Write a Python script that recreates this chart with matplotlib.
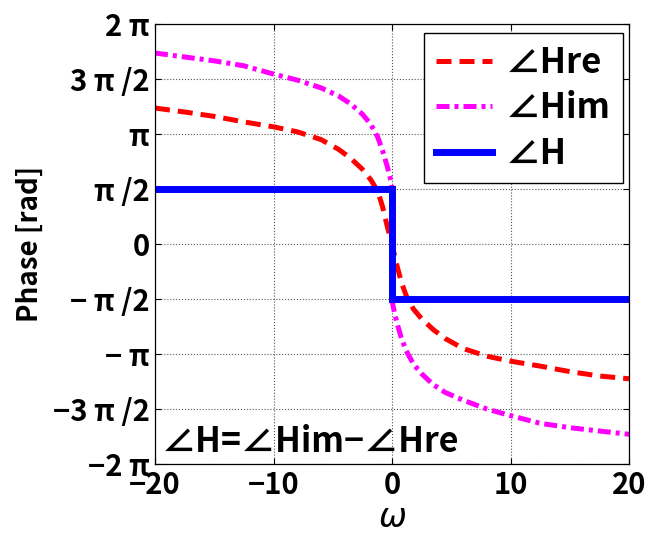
import numpy as np
import matplotlib
matplotlib.use("Agg")
import matplotlib.pyplot as plt

plt.rcParams['font.family'] = ['Noto Sans CJK JP', 'DejaVu Sans']
plt.rcParams['mathtext.fontset'] = 'dejavusans'

# ---- data (phases in units of pi) ----
omega_re = [-20, -17.5, -15, -12.5, -10, -8, -6, -4.5, -3.5, -2.5, -1.8, -1.2, -0.8, -0.4, 0,
            0.4, 0.8, 1.2, 1.8, 2.5, 3.5, 4.5, 6, 8, 10, 12.5, 15, 17.5, 20]
phase_re = [1.236, 1.20, 1.16, 1.11, 1.065, 1.02, 0.95, 0.86, 0.78, 0.68, 0.585, 0.48, 0.34, 0.16, 0.0,
            -0.19, -0.35, -0.47, -0.59, -0.68, -0.78, -0.86, -0.95, -1.02, -1.065, -1.11, -1.16, -1.20, -1.225]

omega_im_neg = [-20, -17.5, -15, -12.5, -10, -8, -6, -4.5, -3.5, -2.5, -1.8, -1.2, -0.8, -0.4, -0.1, 0]
phase_im_neg = [1.736, 1.70, 1.665, 1.62, 1.545, 1.49, 1.42, 1.345, 1.275, 1.18, 1.09, 0.97, 0.85, 0.705, 0.58, 0.5]
omega_im_pos = [0, 0.1, 0.4, 0.8, 1.2, 1.8, 2.5, 3.5, 4.5, 6, 8, 10, 12.5, 15, 17.5, 20]
phase_im_pos = [-0.5, -0.57, -0.71, -0.86, -0.97, -1.09, -1.18, -1.28, -1.35, -1.42, -1.50, -1.56, -1.63, -1.67, -1.70, -1.73]

omega_h = [-20, 0, 0, 20]
phase_h = [0.5, 0.5, -0.5, -0.5]

ytick_vals = [-2, -1.5, -1, -0.5, 0, 0.5, 1, 1.5, 2]
ytick_labels = ['\u22122 \u03c0', '\u22123 \u03c0 /2', '\u2212 \u03c0', '\u2212 \u03c0 /2', '0',
                '\u03c0 /2', '\u03c0', '3 \u03c0 /2', '2 \u03c0']
xtick_vals = [-20, -10, 0, 10, 20]
xtick_labels = ['\u221220', '\u221210', '0', '10', '20']

# ---- figure ----
fig = plt.figure(figsize=(6.51, 5.35), dpi=100)
ax = fig.add_axes([155/651, 1 - 464/535, 474/651, 440/535])

pi = np.pi
ax.plot(np.array(omega_re), np.array(phase_re) * pi, color='#ff0000', lw=3.6,
        dashes=(3.0, 1.6), label='\u2220Hre')
im_x = omega_im_neg + [np.nan] + omega_im_pos
im_y = phase_im_neg + [np.nan] + phase_im_pos
ax.plot(np.array(im_x), np.array(im_y) * pi, color='#ff00ff', lw=3.6,
        dashes=(2.6, 1.0, 0.8, 1.0), label='\u2220Him')
ax.plot(np.array(omega_h), np.array(phase_h) * pi, color='#0000ff', lw=5.0,
        solid_joinstyle='miter', label='\u2220H')

ax.set_xlim(-20, 20)
ax.set_ylim(-2 * pi, 2 * pi)
ax.set_xticks(xtick_vals)
ax.set_xticklabels(xtick_labels)
ax.set_yticks(np.array(ytick_vals) * pi)
ax.set_yticklabels(ytick_labels)
ax.tick_params(direction='in', top=True, right=True, length=4, width=0.8,
               labelsize=21, pad=4)
for lab in ax.get_xticklabels() + ax.get_yticklabels():
    lab.set_fontweight('bold')
ax.grid(True, linestyle=':', color='#555555', linewidth=0.8)
for sp in ax.spines.values():
    sp.set_linewidth(0.9)

ax.set_xlabel(r'$\omega$', fontsize=24, labelpad=0)
ax.set_ylabel('Phase [rad]', fontsize=20, fontweight='bold', labelpad=6)

leg = ax.legend(loc='upper right', bbox_to_anchor=(0.987, 0.980), borderaxespad=0,
                prop={'size': 25, 'weight': 'bold'}, frameon=True, fancybox=False,
                framealpha=1, edgecolor='black', handlelength=1.6, handletextpad=0.4,
                borderpad=0.35, labelspacing=0.3)
leg.get_frame().set_linewidth(1.0)

ax.text(0.015, 0.027, '\u2220H=\u2220Him\u2212\u2220Hre', transform=ax.transAxes,
        fontsize=24.5, fontweight='bold', va='baseline', ha='left')

fig.savefig('out.png', dpi=100)
